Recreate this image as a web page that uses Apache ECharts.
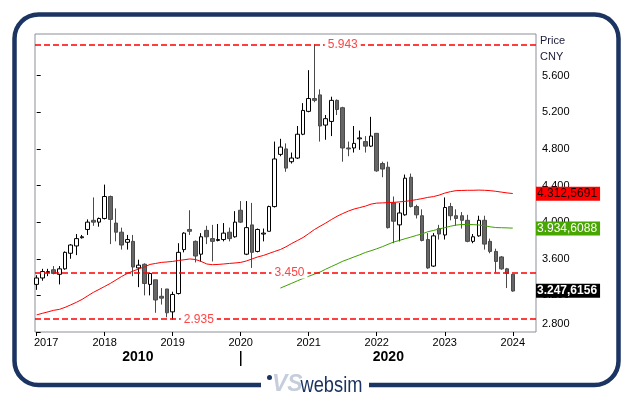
<!DOCTYPE html>
<html>
<head>
<meta charset="utf-8">
<title>Price CNY</title>
<script src="https://cdn.jsdelivr.net/npm/echarts@6/dist/echarts.min.js"></script>
<style>
html, body { margin: 0; padding: 0; background: #fff; }
#chart { width: 630px; height: 399px; }
</style>
</head>
<body>
<div id="chart"></div>
<script>
// monthly candles, Jan 2017 .. Jan 2024 (x = month index)
var years = [2017, 2018, 2019, 2020, 2021, 2022, 2023, 2024];
var decades = ['2010', '2020'];
var yTicks = [2.8, 3.2, 3.6, 4.0, 4.4, 4.8, 5.2, 5.6];
var levels = [5.943, 3.450, 2.935];

var openArr = [3.32,3.39,3.45,3.48,3.43,3.49,3.66,3.74,3.83,3.92,4.02,4.00,
	4.04,4.28,3.99,3.89,3.78,3.79,3.50,3.54,3.32,3.37,3.19,3.27,
	3.02,3.22,3.70,3.92,3.79,3.65,3.91,3.82,3.80,3.81,3.89,3.84,
	4.13,3.65,3.97,3.68,3.87,3.90,4.17,4.74,4.80,4.66,4.70,4.96,
	5.21,5.35,5.39,5.06,5.10,5.33,5.25,4.81,4.81,4.91,4.88,4.83,
	4.97,4.64,4.60,4.21,3.97,4.08,4.49,4.17,4.07,3.81,3.52,3.93,
	3.86,4.17,4.07,4.07,4.02,3.79,3.85,4.02,3.79,3.68,3.62,3.49,
	3.43];
var closeArr = [3.39,3.46,3.46,3.44,3.49,3.67,3.75,3.82,3.84,4.00,4.00,4.04,
	4.28,4.03,3.89,3.75,3.81,3.51,3.53,3.33,3.44,3.15,3.17,3.01,
	3.21,3.67,3.88,3.90,3.63,3.84,3.84,3.79,3.81,3.88,3.82,4.00,
	4.00,3.94,3.67,3.92,3.88,4.17,4.69,4.82,4.59,4.70,4.96,5.22,
	5.35,5.33,5.05,5.13,5.33,5.23,4.81,4.80,4.86,4.92,4.83,4.94,
	4.56,4.58,3.94,4.01,4.10,4.48,4.17,4.08,3.80,3.50,3.85,3.87,
	4.16,4.07,4.04,4.02,3.79,3.84,4.02,3.76,3.68,3.57,3.49,3.44,
	3.2476156];
var lowArr = [3.26,3.36,3.41,3.43,3.32,3.48,3.60,3.64,3.82,3.86,3.96,3.95,
	4.03,3.76,3.79,3.70,3.70,3.41,3.29,3.20,3.20,3.01,3.10,2.96,
	2.935,3.21,3.67,3.86,3.56,3.57,3.76,3.57,3.79,3.79,3.79,3.83,
	3.99,3.64,3.50,3.67,3.79,3.90,4.16,4.72,4.55,4.64,4.69,4.95,
	5.20,5.31,4.88,4.90,4.94,5.17,4.66,4.72,4.76,4.79,4.76,4.82,
	4.55,4.49,3.93,3.77,3.79,4.07,4.16,4.04,3.79,3.49,3.51,3.81,
	3.81,4.02,3.96,3.93,3.78,3.77,3.84,3.70,3.66,3.45,3.48,3.28,
	3.24];
var highArr = [3.42,3.49,3.49,3.52,3.52,3.68,3.76,3.87,3.86,4.03,4.27,4.05,
	4.41,4.29,4.15,3.94,3.86,3.86,3.59,3.55,3.45,3.37,3.28,3.27,
	3.24,3.77,3.89,4.13,3.80,3.88,3.96,3.97,3.98,3.99,3.94,4.12,
	4.23,4.23,4.21,3.93,3.93,4.18,4.88,4.91,4.86,4.76,5.05,5.30,
	5.66,5.943,5.45,5.17,5.37,5.34,5.26,4.88,5.05,5.00,4.94,5.15,
	4.97,4.66,4.66,4.28,4.21,4.52,4.53,4.19,4.14,3.88,3.88,3.97,
	4.27,4.21,4.14,4.11,4.08,3.87,4.07,4.07,3.82,3.71,3.63,3.50,
	3.43];

// red average, from the first month
var maRed = [2.987,3.004,3.020,3.037,3.047,3.069,3.096,3.124,3.156,3.195,3.233,3.265,
	3.298,3.331,3.369,3.407,3.440,3.465,3.489,3.511,3.538,3.549,3.560,3.565,
	3.571,3.581,3.589,3.598,3.592,3.571,3.543,3.535,3.538,3.543,3.549,3.554,
	3.560,3.576,3.598,3.620,3.636,3.658,3.680,3.701,3.731,3.767,3.799,3.832,
	3.875,3.919,3.955,3.990,4.028,4.064,4.094,4.121,4.143,4.159,4.175,4.197,
	4.208,4.210,4.214,4.216,4.221,4.227,4.235,4.246,4.257,4.270,4.279,4.295,
	4.317,4.333,4.344,4.346,4.348,4.348,4.350,4.348,4.344,4.337,4.328,4.319,
	4.3125691];
// green average, starts Aug 2020
var greenStart = 43;
var maGreen = [3.280,3.306,3.332,3.359,3.385,3.409,3.432,3.455,3.486,3.515,
	3.543,3.573,3.596,3.620,3.643,3.669,3.688,3.709,3.732,3.758,
	3.783,3.800,3.819,3.836,3.855,3.871,3.895,3.909,3.925,3.940,
	3.955,3.968,3.974,3.974,3.973,3.969,3.961,3.949,3.941,3.939,
	3.937,3.9346088];

var FONT = 'Liberation Sans, Arial, sans-serif';

var candleData = [], redData = [], greenData = [];
for (var i = 0; i < openArr.length; i++) {
	candleData.push([i, openArr[i], closeArr[i], lowArr[i], highArr[i]]);
	redData.push([i, maRed[i]]);
}
for (var j = 0; j < maGreen.length; j++) {
	greenData.push([j + greenStart, maGreen[j]]);
}
var last = openArr.length - 1;

//4.3125691 -> 4.312,5691
function badgeText(v) {
	var s = v.toFixed(7);
	return s.slice(0, s.length - 4) + ',' + s.slice(s.length - 4);
}
function badge(v, bg, fg, bold) {
	return {
		yAxis: v,
		lineStyle: { color: 'rgba(0,0,0,0)', width: 0 },
		label: {
			show: true, position: 'end', distance: 0,
			formatter: badgeText(v),
			backgroundColor: bg, color: fg,
			fontSize: 12, fontFamily: FONT, fontWeight: bold ? 'bold' : 'normal',
			lineHeight: 13, padding: [1, 3, 0, 1]
		}
	};
}

var xTickVals = years.map(function(y, k) { return k * 12; });

var chart = echarts.init(document.getElementById('chart'));
var option = {
	animation: false,
	backgroundColor: '#fff',
	grid: {
		left: 35, top: 34, right: 94, bottom: 67,
		show: true, borderColor: '#8d8d9b', borderWidth: 1
	},
	xAxis: {
		type: 'value', min: -0.3, max: 88.1,
		axisLine: { show: false },
		splitLine: { show: false },
		axisTick: { show: true, customValues: xTickVals, length: 4, lineStyle: { color: '#000' } },
		axisLabel: {
			customValues: xTickVals, margin: 5,
			fontSize: 11, color: '#000', fontFamily: FONT,
			formatter: function(v) {
				var y = years[Math.round(v / 12)];
				return v === 0 ? '{first|' + y + '}' : String(y);
			},
			rich: { first: { padding: [0, 0, 0, 19], fontSize: 11, color: '#000', fontFamily: FONT } }
		}
	},
	yAxis: {
		type: 'value', position: 'right', min: 2.8, max: 6.055,
		axisLine: { show: false },
		splitLine: { show: false },
		axisTick: { show: true, customValues: yTicks, length: 4, lineStyle: { color: '#000' } },
		axisLabel: {
			customValues: yTicks, margin: 6,
			fontSize: 11, color: '#000', fontFamily: FONT,
			formatter: function(v) {
				var s = v.toFixed(3);
				return v < 2.85 ? '{lo|' + s + '}' : s;
			},
			rich: { lo: { padding: [0, 0, 16, 0], fontSize: 11, color: '#000', fontFamily: FONT } }
		}
	},
	series: [{
		name: 'Price',
		type: 'candlestick',
		data: candleData,
		barWidth: 4,
		clip: false,
		itemStyle: {
			color: '#fff', color0: '#666',
			borderColor: '#000', borderColor0: '#4a4a4a', borderWidth: 1
		},
		markLine: {
			silent: true, symbol: ['none', 'none'],
			label: { show: false },
			lineStyle: { color: '#ff0000', type: [6, 3], width: 1.5 },
			data: levels.map(function(v) { return { yAxis: v }; }).concat([badge(closeArr[last], '#000', '#fff', true)])
		},
		markPoint: {
			silent: true, symbol: 'rect', symbolSize: 1,
			itemStyle: { color: 'rgba(0,0,0,0)' },
			label: {
				show: true, position: 'inside',
				formatter: function(p) { return p.value.toFixed(3); },
				backgroundColor: '#fff', color: '#ff4545',
				fontSize: 12, fontFamily: FONT, padding: [0, 3]
			},
			data: [
				{ coord: [54, levels[0]], value: levels[0] },
				{ coord: [44.6, levels[1]], value: levels[1] },
				{ coord: [28.6, levels[2]], value: levels[2] }
			]
		}
	}, {
		name: 'MA red',
		type: 'line',
		data: redData,
		symbol: 'none',
		lineStyle: { color: '#ff0000', width: 1 },
		markLine: { silent: true, symbol: ['none', 'none'], data: [badge(maRed[last], '#ff0000', '#200000', false)] }
	}, {
		name: 'MA green',
		type: 'line',
		data: greenData,
		symbol: 'none',
		lineStyle: { color: '#3f9f00', width: 1 },
		markLine: { silent: true, symbol: ['none', 'none'], data: [badge(maGreen[maGreen.length - 1], '#48a600', '#fff', false)] }
	}]
};
chart.setOption(option);

// decade row under the years
var xa = chart.convertToPixel({ xAxisIndex: 0 }, -0.3);
var xb = chart.convertToPixel({ xAxisIndex: 0 }, 36);
var xc = chart.convertToPixel({ xAxisIndex: 0 }, 88.1);

chart.setOption({
	graphic: [
		// frame
		{ type: 'rect', shape: { x: 14.5, y: 14.5, width: 604, height: 370.5, r: 24 },
			style: { fill: null, stroke: '#1c3461', lineWidth: 4.5 }, silent: true },
		{ type: 'rect', shape: { x: 261, y: 378, width: 108, height: 14 }, style: { fill: '#fff' }, silent: true },
		// logo
		{ type: 'circle', shape: { cx: 269.5, cy: 377.5, r: 2.5 }, style: { fill: '#1c3461' }, silent: true },
		{ type: 'text', x: 272, y: 385, silent: true,
			style: { text: 'VS', fill: '#c6cedb', font: 'italic bold 23px ' + FONT, align: 'left', verticalAlign: 'middle' } },
		{ type: 'text', x: 300.5, y: 385.5, scaleX: 0.83, silent: true,
			style: { text: 'websim', fill: '#1c3461', font: '22px ' + FONT, align: 'left', verticalAlign: 'middle' } },
		// axis title
		{ type: 'text', x: 540, y: 41, silent: true,
			style: { text: 'Price', fill: '#1a1a3a', font: '11px ' + FONT, align: 'left', verticalAlign: 'middle' } },
		{ type: 'text', x: 540, y: 57, silent: true,
			style: { text: 'CNY', fill: '#1a1a3a', font: '11px ' + FONT, align: 'left', verticalAlign: 'middle' } },
		// decades
		{ type: 'text', x: (xa + xb) / 2, y: 357.5, silent: true,
			style: { text: decades[0], fill: '#000', font: 'bold 14px ' + FONT, align: 'center', verticalAlign: 'middle' } },
		{ type: 'text', x: (xb + xc) / 2, y: 357.5, silent: true,
			style: { text: decades[1], fill: '#000', font: 'bold 14px ' + FONT, align: 'center', verticalAlign: 'middle' } },
		{ type: 'line', shape: { x1: xb, y1: 351, x2: xb, y2: 366 }, style: { stroke: '#000', lineWidth: 1.5 }, silent: true }
	]
});
</script>
</body>
</html>
